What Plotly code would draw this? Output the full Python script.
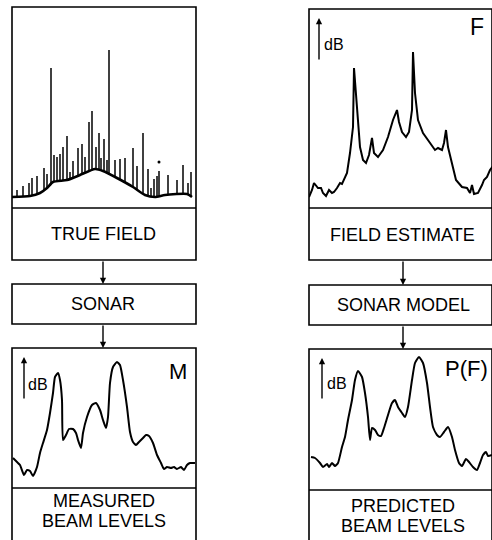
import numpy as np
import plotly.graph_objects as go

W, H = 492, 540

# ---------------- data (picture units: bearing x, level y; y grows downward) -------------
# TRUE FIELD: smooth background hump + discrete source spikes
hump_x = [12, 30, 40, 47, 53, 67, 80, 95, 103, 117, 133, 145, 155, 165, 187, 192]
hump_y = [197, 196, 193, 188, 182, 180, 175, 169, 171, 178, 187, 195, 197, 195, 194, 197]
spike_x = [17, 23, 29, 32, 37, 44, 47, 51, 54, 57, 60, 63, 67, 70, 73, 78, 82, 85, 89, 92,
           96, 99, 101, 104, 107, 109, 115, 120, 125, 133, 137, 143, 148, 151, 154, 157,
           159, 168, 177, 183, 188, 191]
spike_top = [190, 186, 183, 178, 176, 168, 174, 68, 155, 157, 154, 147, 136, 172, 161, 148,
             144, 157, 122, 111, 147, 133, 158, 139, 160, 50, 160, 159, 158, 148, 166, 133,
             169, 188, 179, 176, 171, 175, 180, 165, 183, 172]
dot_x, dot_y = [159], [162]

# FIELD ESTIMATE  F
f_x = [309, 312, 314, 316, 318, 321, 323, 326, 329, 332, 334, 337, 340, 342, 347, 350, 353,
       354, 357, 360, 363, 366, 369, 372, 374, 378, 383, 388, 393, 397, 399, 402, 406, 409,
       412, 413, 415, 418, 423, 430, 435, 438, 442, 444, 446, 448, 452, 456, 462, 467, 470,
       472, 474, 478, 482, 484, 487, 490, 493]
f_y = [197, 190, 183, 185, 188, 188, 193, 196, 190, 193, 192, 188, 183, 184, 173, 153, 127,
       68, 110, 147, 160, 163, 155, 138, 153, 157, 150, 137, 120, 110, 122, 132, 137, 132,
       110, 52, 93, 120, 133, 143, 150, 148, 150, 143, 130, 147, 163, 180, 187, 188, 193,
       185, 194, 193, 185, 180, 177, 170, 166]

# MEASURED BEAM LEVELS  M
m_x = [13, 17, 20, 24, 27, 30, 33, 37, 40, 43, 47, 50, 53, 55, 58, 60, 62, 63, 66, 69, 73,
       76, 78, 81, 83, 87, 92, 96, 100, 103, 106, 108, 110, 113, 117, 120, 123, 127, 130,
       133, 136, 139, 143, 146, 149, 153, 157, 161, 164, 167, 171, 174, 177, 181, 184, 187,
       190, 195]
m_y = [458, 462, 465, 475, 470, 471, 476, 467, 453, 443, 430, 413, 393, 377, 373, 380, 400,
       440, 435, 429, 429, 433, 440, 448, 433, 417, 405, 403, 410, 420, 428, 417, 383, 367,
       362, 365, 380, 407, 432, 442, 445, 442, 438, 435, 436, 443, 455, 463, 469, 467, 468,
       467, 469, 467, 470, 465, 463, 463]

# PREDICTED BEAM LEVELS  P(F)
p_x = [311, 315, 320, 323, 327, 329, 332, 335, 338, 342, 345, 348, 352, 355, 358, 362, 365,
       368, 370, 372, 375, 378, 381, 384, 388, 392, 395, 398, 402, 405, 408, 412, 415, 419,
       423, 427, 430, 433, 437, 440, 444, 448, 452, 455, 459, 462, 466, 469, 473, 477, 480,
       483, 486, 488, 492]
p_y = [457, 458, 463, 467, 464, 467, 463, 466, 463, 447, 437, 420, 400, 380, 371, 377, 393,
       417, 440, 428, 430, 435, 436, 428, 415, 403, 400, 407, 413, 417, 407, 380, 363, 357,
       363, 383, 407, 427, 435, 437, 432, 427, 437, 450, 463, 466, 459, 462, 467, 470, 463,
       455, 452, 456, 455]

# ---------------- layout geometry (picture units) ----------------
L0, L1 = 12, 196
R0, R1 = 309, 492
panels = {
    # name: (x0, x1, top, divider)
    "tf": (L0, L1, 7, 208),
    "fe": (R0, R1, 9, 208),
    "mb": (L0, L1, 348, 488),
    "pb": (R0, R1, 349, 490),
}


def px(x):
    return x / W


def py(y):
    return 1 - y / H


fig = go.Figure()

axis_ids = {"tf": "", "fe": "2", "mb": "3", "pb": "4"}
layout_axes = {}
for name, (x0, x1, top, div) in panels.items():
    i = axis_ids[name]
    layout_axes["xaxis" + i] = dict(domain=[px(x0), px(x1)], range=[x0, x1], visible=False,
                                    fixedrange=True, anchor="y" + i)
    layout_axes["yaxis" + i] = dict(domain=[py(div), py(top)], range=[div, top], visible=False,
                                    fixedrange=True, anchor="x" + i)

# TRUE FIELD spikes
base = np.interp(spike_x, hump_x, hump_y)
sx, sy = [], []
for x, b, t in zip(spike_x, base, spike_top):
    sx += [x, x, None]
    sy += [b, t, None]
fig.add_trace(go.Scatter(x=sx, y=sy, mode="lines", line=dict(color="black", width=1.5),
                         xaxis="x", yaxis="y", hoverinfo="skip"))
fig.add_trace(go.Scatter(x=hump_x, y=hump_y, mode="lines",
                         line=dict(color="black", width=2.6, shape="spline", smoothing=0.6),
                         xaxis="x", yaxis="y", hoverinfo="skip"))
fig.add_trace(go.Scatter(x=dot_x, y=dot_y, mode="markers", marker=dict(color="black", size=3),
                         xaxis="x", yaxis="y", hoverinfo="skip"))
fig.add_trace(go.Scatter(x=f_x, y=f_y, mode="lines", line=dict(color="black", width=2),
                         xaxis="x2", yaxis="y2", hoverinfo="skip"))
fig.add_trace(go.Scatter(x=m_x, y=m_y, mode="lines",
                         line=dict(color="black", width=2, shape="spline", smoothing=0.5),
                         xaxis="x3", yaxis="y3", hoverinfo="skip"))
fig.add_trace(go.Scatter(x=p_x, y=p_y, mode="lines",
                         line=dict(color="black", width=2, shape="spline", smoothing=0.5),
                         xaxis="x4", yaxis="y4", hoverinfo="skip"))

shapes = []


def rect(x0, y0, x1, y1):
    shapes.append(dict(type="rect", xref="paper", yref="paper", x0=px(x0), x1=px(x1),
                       y0=py(y1), y1=py(y0), line=dict(color="black", width=1.6)))


def hline(x0, x1, y):
    shapes.append(dict(type="line", xref="paper", yref="paper", x0=px(x0), x1=px(x1),
                       y0=py(y), y1=py(y), line=dict(color="black", width=1.6)))


# top panels with label boxes
rect(L0, 7, L1, 260); hline(L0, L1, 208)
rect(R0, 9, R1, 260); hline(R0, R1, 208)
# sonar boxes
rect(L0, 284, L1, 324)
rect(R0, 285, R1, 325)
# bottom panels
rect(L0, 348, L1, 560); hline(L0, L1, 488)
rect(R0, 349, R1, 560); hline(R0, R1, 490)

FONT = "Liberation Sans, Arial, Helvetica, sans-serif"
ann = []


def text(t, x, y, size):
    ann.append(dict(text=t, x=px(x), y=py(y), xref="paper", yref="paper", showarrow=False,
                    xanchor="center", yanchor="middle",
                    font=dict(family=FONT, size=size, color="black")))


def arrow(x, yhead, ytail, head=2, size=0.9):
    ann.append(dict(text="", x=px(x), y=py(yhead), xref="paper", yref="paper", showarrow=True,
                    ax=0, ay=ytail - yhead, axref="pixel", ayref="pixel",
                    arrowhead=head, arrowsize=size, arrowwidth=1.4, arrowcolor="black",
                    standoff=0, startstandoff=0))


text("TRUE FIELD", 103, 234, 18)
text("FIELD ESTIMATE", 402, 235, 18)
text("SONAR", 103, 304, 18)
text("SONAR MODEL", 403, 305, 18)
text("MEASURED", 104, 501, 18)
text("BEAM LEVELS", 104, 521, 18)
text("PREDICTED", 403, 506, 18)
text("BEAM LEVELS", 403, 526, 18)
text("F", 477, 27, 23)
text("M", 178, 371, 22)
text("P(F)", 466, 368, 22)
text("dB", 334, 44, 16)
text("dB", 38, 384, 16)
text("dB", 337, 383, 16)

# flow arrows
arrow(103, 284, 260)
arrow(103, 348, 324)
arrow(403, 285, 260)
arrow(403, 349, 325)
# dB axis arrows
arrow(319, 18, 61)
arrow(24, 357, 400)
arrow(322, 358, 400)

fig.update_layout(width=W, height=H, autosize=False,
                  margin=dict(l=0, r=0, t=0, b=0, pad=0),
                  paper_bgcolor="white", plot_bgcolor="rgba(0,0,0,0)",
                  showlegend=False, shapes=shapes, annotations=ann, **layout_axes)

fig.write_html("out.html", config={"displayModeBar": False},
               post_script="document.body.style.margin='0px';document.body.style.padding='0px';")
